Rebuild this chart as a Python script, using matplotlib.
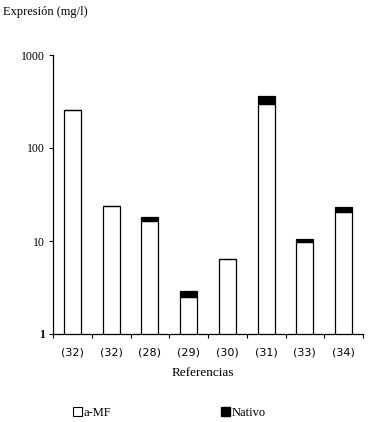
import numpy as np
import matplotlib.pyplot as plt
from matplotlib.patches import Patch

# Datos
referencias = ['(32)', '(32)', '(28)', '(29)', '(30)', '(31)', '(33)', '(34)']
amf = [255, 24, 16.3, 2.53, 6.4, 295, 9.8, 20.4]
total = [255, 24, 18.0, 2.91, 6.4, 360, 10.6, 23.4]
nativo = [t - a for t, a in zip(total, amf)]

W, H = 371, 422
fig = plt.figure(figsize=(W / 100, H / 100), dpi=100)
ax = fig.add_axes([53 / W, (H - 334) / H, (363 - 53) / W, (334 - 55) / H])

x = np.arange(len(referencias))
ax.bar(x, amf, width=0.44, bottom=0, color='white', edgecolor='black', linewidth=0.9)
ax.bar(x, nativo, width=0.44, bottom=amf, color='black', edgecolor='black', linewidth=0.9)

ax.set_yscale('log')
ax.set_ylim(1, 1000)
ax.set_xlim(-0.5, len(referencias) - 0.5)
ax.set_yticks([1, 10, 100, 1000])
ax.set_yticklabels(['1', '10', '100', '1000'], family='Liberation Serif', fontsize=8.5)
ax.get_yticklabels()[0].set_fontweight('bold')
ax.yaxis.set_minor_locator(plt.NullLocator())
ax.tick_params(axis='y', length=3, width=0.8, pad=3)

ax.set_xticks(x)
ax.set_xticklabels(referencias, family='DejaVu Sans', fontsize=8)
ax.set_xticks(np.arange(len(referencias) + 1) - 0.5, minor=True)
ax.tick_params(axis='x', which='major', length=0, pad=10)
ax.tick_params(axis='x', which='minor', length=3, width=0.8)

for s in ['top', 'right']:
    ax.spines[s].set_visible(False)
ax.spines['left'].set_linewidth(0.9)
ax.spines['bottom'].set_linewidth(0.9)

ax.set_xlabel('Referencias', family='Liberation Serif', fontsize=9.5)
ax.xaxis.set_label_coords((203 - 53) / (363 - 53), -(373 - 334) / (334 - 55))
ax.xaxis.label.set_va('center')
fig.text(3 / W, (H - 12) / H, 'Expresión (mg/l)', family='Liberation Serif',
         fontsize=9, va='center', ha='left')

h1 = Patch(facecolor='white', edgecolor='black', linewidth=0.8)
h2 = Patch(facecolor='black', edgecolor='black')
fig.legend([h1], ['a-MF'], loc='center left', bbox_to_anchor=(62 / W, (H - 413) / H),
           frameon=False, handlelength=0.7, handleheight=0.7, handletextpad=0.15,
           prop={'family': 'Liberation Serif', 'size': 9})
fig.legend([h2], ['Nativo'], loc='center left', bbox_to_anchor=(210 / W, (H - 413) / H),
           frameon=False, handlelength=0.7, handleheight=0.7, handletextpad=0.15,
           prop={'family': 'Liberation Serif', 'size': 9})

fig.savefig('out.png', dpi=100)
